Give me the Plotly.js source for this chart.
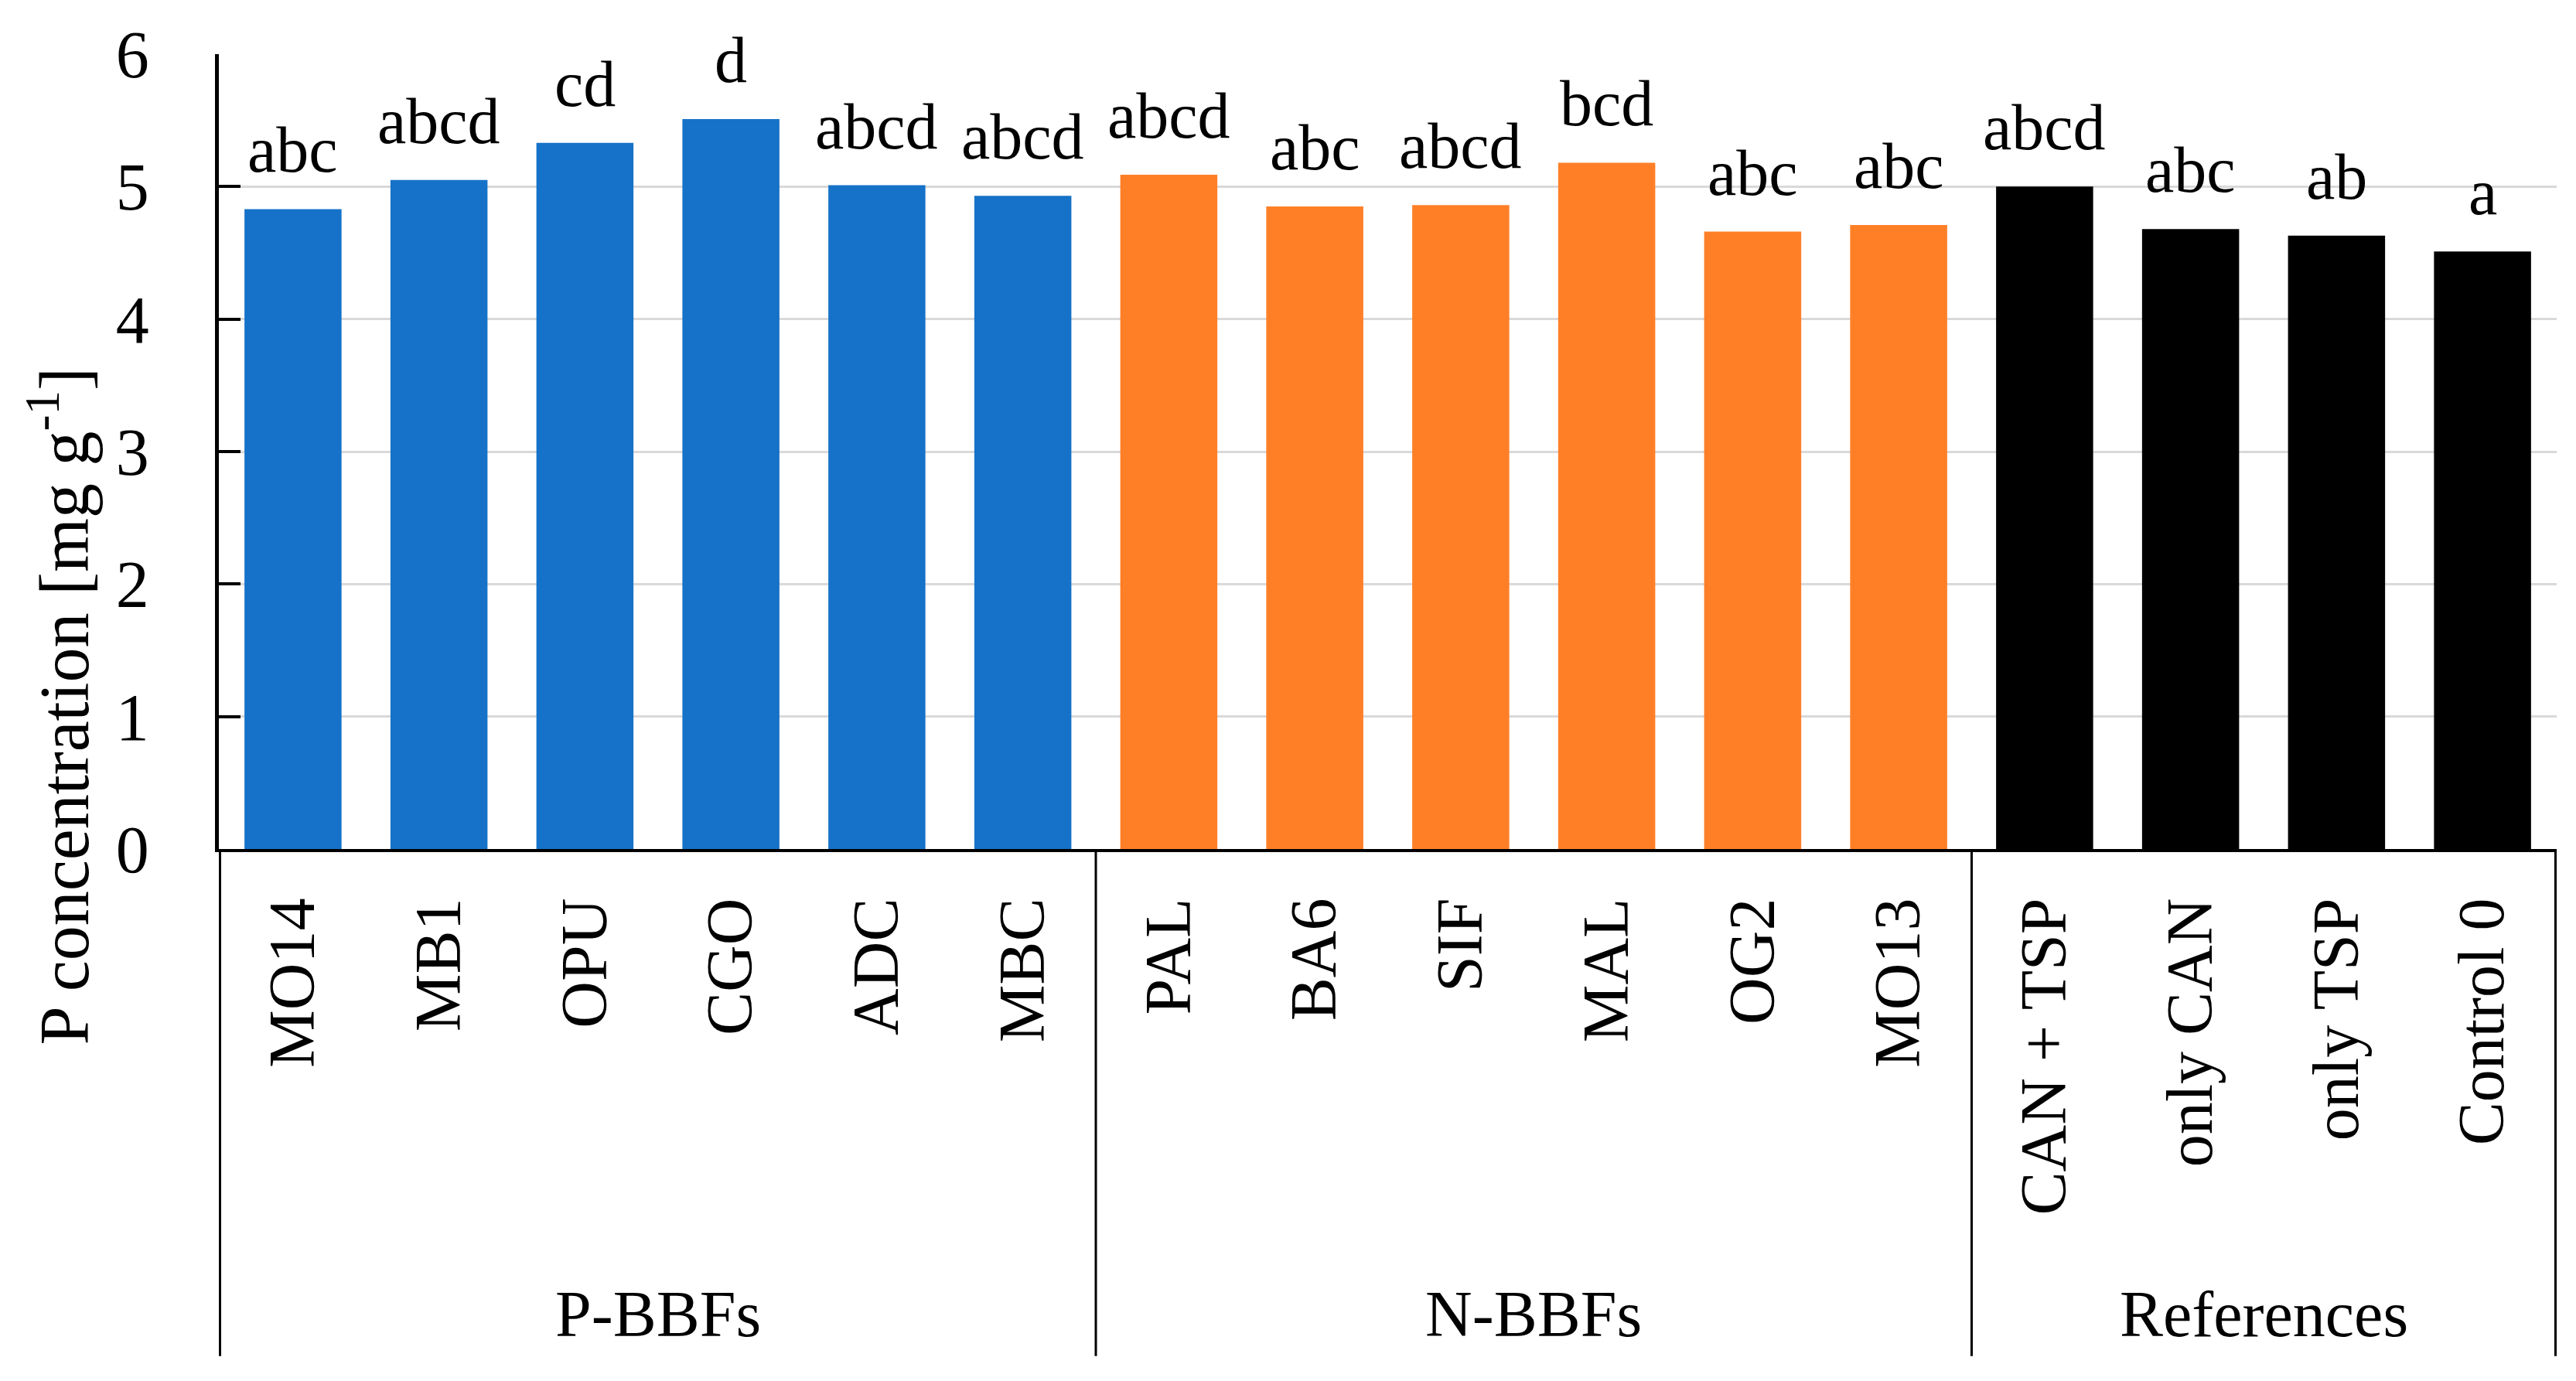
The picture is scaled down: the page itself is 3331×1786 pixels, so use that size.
<!DOCTYPE html>
<html>
<head>
<meta charset="utf-8">
<script src="https://cdn.plot.ly/plotly-3.0.1.min.js"></script>
<style>
  html, body { margin: 0; padding: 0; background: #ffffff; }
  #chart { width: 3331px; height: 1786px; }
</style>
</head>
<body>
<div id="chart"></div>
<script>
// ---- data ----
const categories = ["MO14", "MB1", "OPU", "CGO", "ADC", "MBC",
                    "PAL", "BA6", "SIF", "MAL", "OG2", "MO13",
                    "CAN + TSP", "only CAN", "only TSP", "Control 0"];
const pConcentration = [4.83, 5.05, 5.33, 5.51, 5.01, 4.93,
                        5.09, 4.85, 4.86, 5.18, 4.66, 4.71,
                        5.00, 4.68, 4.63, 4.51];
const letters = ["abc", "abcd", "cd", "d", "abcd", "abcd",
                 "abcd", "abc", "abcd", "bcd", "abc", "abc",
                 "abcd", "abc", "ab", "a"];
const groupNames = ["P-BBFs", "N-BBFs", "References"];
const groupSizes = [6, 6, 4];
const groupColors = ["#1672C8", "#FF7F27", "#000000"];
const yTickVals = [0, 1, 2, 3, 4, 5, 6];
const yTitle = "P concentration [mg g<sup>-1</sup>]";

// ---- derived ----
const FONT = "Liberation Serif, Times New Roman, serif";
const barColors = [];
groupSizes.forEach((n, g) => { for (let i = 0; i < n; i++) barColors.push(groupColors[g]); });

const annotations = [];
categories.forEach((c, i) => {
  annotations.push({
    x: c, y: pConcentration[i], xref: "x", yref: "y",
    text: letters[i], showarrow: false,
    xanchor: "center", yanchor: "bottom", yshift: 28,
    font: { family: FONT, size: 84, color: "#000" }
  });
});

const shapes = [];
let start = 0;
const boundaries = [-0.5];
groupSizes.forEach((n, g) => {
  const center = start + (n - 1) / 2;
  annotations.push({
    x: center, y: -0.585, xref: "x", yref: "paper",
    text: groupNames[g], showarrow: false,
    xanchor: "center", yanchor: "middle",
    font: { family: FONT, size: 84, color: "#000" }
  });
  start += n;
  boundaries.push(start - 0.5);
});
boundaries.forEach(b => {
  shapes.push({
    type: "line", xref: "x", yref: "paper",
    x0: b, x1: b, y0: 0, y1: -0.638,
    line: { color: "#000", width: 3 }
  });
});

annotations.push({
  x: -0.068, y: 0.18, xref: "paper", yref: "paper",
  text: yTitle, textangle: -90, showarrow: false,
  xanchor: "center", yanchor: "middle",
  font: { family: FONT, size: 90, color: "#000" }
});

const trace = {
  type: "bar",
  x: categories,
  y: pConcentration,
  marker: { color: barColors, line: { width: 0 } },
  hoverinfo: "x+y"
};

const layout = {
  width: 3331, height: 1786,
  paper_bgcolor: "#ffffff", plot_bgcolor: "#ffffff",
  margin: { l: 283, r: 25, t: 70, b: 688, autoexpand: false },
  showlegend: false,
  bargap: 0.335,
  font: { family: FONT, size: 84, color: "#000" },
  xaxis: {
    type: "category",
    showline: true, linecolor: "#000", linewidth: 4,
    showgrid: false, zeroline: false,
    ticks: "", tickangle: -90,
    ticklabelstandoff: 26,
    tickfont: { family: FONT, size: 84, color: "#000" },
    automargin: false, fixedrange: true
  },
  yaxis: {
    range: [0, 6],
    tickvals: yTickVals,
    ticktext: yTickVals.map(String),
    showline: true, linecolor: "#000", linewidth: 5,
    showgrid: true, gridcolor: "#D9D9D9", gridwidth: 3,
    zeroline: false,
    ticks: "inside", ticklen: 28, tickwidth: 4, tickcolor: "#000",
    ticklabelstandoff: 68,
    tickfont: { family: FONT, size: 86, color: "#000" },
    automargin: false, fixedrange: true
  },
  annotations: annotations,
  shapes: shapes
};

Plotly.newPlot("chart", [trace], layout, { staticPlot: true, displayModeBar: false });
</script>
</body>
</html>
